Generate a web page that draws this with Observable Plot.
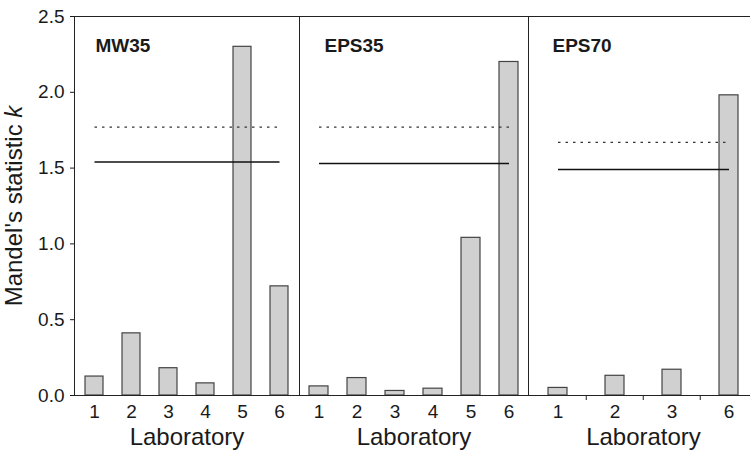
<!DOCTYPE html>
<html>
<head>
<meta charset="utf-8">
<script src="https://cdn.jsdelivr.net/npm/d3@7"></script>
<script src="https://cdn.jsdelivr.net/npm/@observablehq/plot@0.6"></script>
<style>
  html, body { margin: 0; padding: 0; background: #fff; }
  #chart { display: flex; width: 750px; height: 451px; overflow: hidden; }
  #chart svg { flex: none; display: block; }
</style>
</head>
<body>
<div id="chart"></div>
<script>
// ---- data ----
const labsA = ["1", "2", "3", "4", "5", "6"];
const labsC = ["1", "2", "3", "6"];
const panelNames = ["MW35", "EPS35", "EPS70"];
const mw35 = [0.125, 0.41, 0.18, 0.08, 2.30, 0.72];
const eps35 = [0.06, 0.115, 0.03, 0.045, 1.04, 2.20];
const eps70 = [0.05, 0.13, 0.17, 1.98];
const critDotted = [1.77, 1.77, 1.67];
const critSolid = [1.54, 1.53, 1.49];
const yTicks = [0, 0.5, 1.0, 1.5, 2.0, 2.5];

const FONT = "'Liberation Sans', Arial, Helvetica, sans-serif";

function panel({idx, labs, values, width, marginLeft, padIn, showY, tickBetween, labelDx}) {
  const rows = labs.map((lab, i) => ({lab, k: values[i]}));
  const step = (width - marginLeft) / labs.length;
  const first = labs[0], last = labs[labs.length - 1];
  const marks = [
    Plot.barY(rows, {x: "lab", y: "k", fill: "#d0d0d0", stroke: "#444", strokeWidth: 1.2}),
    Plot.link([critDotted[idx]], {x1: () => first, x2: () => last, y1: d => d, y2: d => d,
      stroke: "#333", strokeWidth: 1.3, strokeDasharray: "2.5,5"}),
    Plot.link([critSolid[idx]], {x1: () => first, x2: () => last, y1: d => d, y2: d => d,
      stroke: "#111", strokeWidth: 1.5}),
    Plot.frame({stroke: "#222", strokeWidth: 1}),
    Plot.axisX({tickSize: 0, tickPadding: 9, fontSize: 19, label: null}),
    Plot.text([panelNames[idx]], {frameAnchor: "top-left", lineAnchor: "top", textAnchor: "start",
      dx: labelDx, dy: 22, fontWeight: "bold", fontSize: 19}),
    Plot.text(["Laboratory"], {frameAnchor: "bottom", lineAnchor: "bottom", dy: 49, fontSize: 24})
  ];
  if (tickBetween) {
    marks.push(Plot.axisX(labs.slice(1), {tickSize: 5, tickFormat: () => "", dx: -step / 2, label: null, stroke: "#222"}));
  }
  if (showY) {
    marks.push(Plot.axisY(yTicks, {tickSize: 4, tickPadding: 6, tickFormat: d3.format(".1f"), fontSize: 19, label: null}));
  }
  return Plot.plot({
    width, height: 451,
    marginLeft, marginRight: 0, marginTop: 16, marginBottom: 56,
    style: {fontFamily: FONT, fontSize: "19px", background: "white", color: "#1a1a1a", overflow: "visible"},
    x: {domain: labs, paddingInner: padIn, paddingOuter: padIn / 2, axis: null},
    y: {domain: [0, 2.5], axis: null},
    marks
  });
}

const p1 = panel({idx: 0, labs: labsA, values: mw35, width: 299, marginLeft: 74, padIn: 0.52, showY: true, tickBetween: false, labelDx: 21});
const p2 = panel({idx: 1, labs: labsA, values: eps35, width: 229, marginLeft: 0, padIn: 0.51, showY: false, tickBetween: false, labelDx: 25});
const p3 = panel({idx: 2, labs: labsC, values: eps70, width: 230, marginLeft: 0, padIn: 0.66, showY: false, tickBetween: true, labelDx: 24});

// y-axis title with italic k
const yl = d3.select(p1).append("text")
  .attr("transform", "translate(22,206) rotate(-90)")
  .attr("text-anchor", "middle")
  .attr("font-family", FONT)
  .attr("font-size", 24)
  .attr("fill", "#1a1a1a");
yl.append("tspan").text("Mandel's statistic ");
yl.append("tspan").attr("font-style", "italic").text("k");

const chart = document.getElementById("chart");
chart.append(p1, p2, p3);
</script>
</body>
</html>
